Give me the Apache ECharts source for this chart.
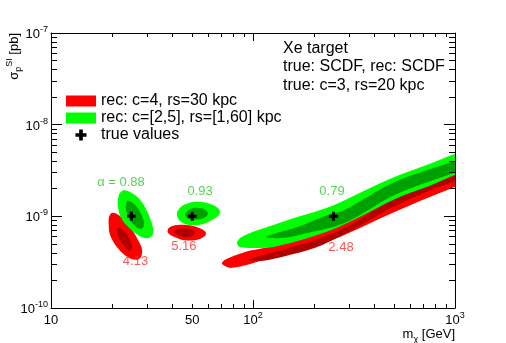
<!DOCTYPE html>
<html>
<head>
<meta charset="utf-8">
<script src="https://cdn.jsdelivr.net/npm/echarts@6/dist/echarts.min.js"></script>
<style>
  html, body { margin: 0; padding: 0; background: #fff; }
  #chart { width: 506px; height: 343px; }
</style>
</head>
<body>
<div id="chart"></div>
<script>
// true values [m_chi GeV, sigma pb]
var trueValues = [[25, 1e-9], [50, 1e-9], [250, 1e-9]];

// contours, [mass, sigma]
// rec: c=4, rs=30 kpc
var red25Outer = [[20.0,1.09e-9],[21.5,1.04e-9],[23.2,8.9e-10],[25.2,7.1e-10],[27.0,5.5e-10],[28.2,4.4e-10],[27.9,3.61e-10],[26.35,3.35e-10],[23.5,3.7e-10],[21.0,4.76e-10],[19.6,6.28e-10],[19.3,8.3e-10],[19.4,9.9e-10]];
var red25Inner = [[21.7,7.5e-10],[23.2,6.8e-10],[24.6,5.5e-10],[25.2,4.5e-10],[24.3,4.2e-10],[23.0,4.8e-10],[21.7,5.75e-10],[21.2,6.95e-10]];
var red50Outer = [[38.0,7.3e-10],[40.2,7.9e-10],[44.5,8.1e-10],[49.9,7.9e-10],[55.3,7.3e-10],[58.5,6.6e-10],[57.2,6.0e-10],[51.6,5.5e-10],[45.5,5.5e-10],[40.6,6.0e-10],[38.0,6.6e-10]];
var red50Inner = [[40.6,6.8e-10],[43.0,7.3e-10],[47.1,7.4e-10],[51.0,6.95e-10],[51.6,6.45e-10],[48.2,6.0e-10],[43.5,6.05e-10]];
var red250Outer = [[70.2,3.03e-10],[78.7,2.74e-10],[115,3.35e-10],[167,4.09e-10],[246,5.53e-10],[285,6.28e-10],[505,1.12e-9],[1000,2.10e-9],[1256,2.51e-9],
                   [1256,4.14e-9],[1000,3.39e-9],[505,1.72e-9],[285,8.7e-10],[171,5.82e-10],[115,4.53e-10],[91.3,4.09e-10],[72.7,3.35e-10]];
var red250Inner = [[94.5,3.35e-10],[139,4.30e-10],[203,5.53e-10],[285,7.49e-10],[505,1.55e-9],[1000,2.77e-9],[1256,3.30e-9],
                   [1256,2.77e-9],[1000,2.44e-9],[505,1.30e-9],[285,6.44e-10],[203,4.53e-10],[139,3.61e-10],[108,3.26e-10]];
// rec: c=[2,5], rs=[1,60] kpc
var green25Outer = [[23.2,1.92e-9],[25.5,1.76e-9],[27.6,1.52e-9],[29.5,1.21e-9],[30.9,9.6e-10],[32.0,7.5e-10],[32.0,6.44e-10],[30.55,5.82e-10],[28.5,5.89e-10],[26.05,6.6e-10],[23.8,7.87e-10],[22.2,9.63e-10],[21.5,1.24e-9],[21.5,1.59e-9],[22.2,1.85e-9]];
var green25Inner = [[24.0,1.48e-9],[26.4,1.30e-9],[28.2,1.01e-9],[28.9,8.1e-10],[27.9,7.3e-10],[26.0,7.9e-10],[24.3,9.6e-10],[23.5,1.21e-9]];
var green50Outer = [[42.0,1.07e-9],[44.0,1.27e-9],[48.2,1.40e-9],[53.4,1.44e-9],[59.2,1.40e-9],[64.9,1.30e-9],[68.6,1.15e-9],[67.1,1.01e-9],[61.3,8.9e-10],[54.7,8.1e-10],[47.7,8.1e-10],[43.5,8.9e-10]];
var green50Inner = [[46.1,1.04e-9],[48.2,1.18e-9],[52.8,1.24e-9],[57.9,1.18e-9],[59.9,1.07e-9],[57.2,9.6e-10],[52.2,9.2e-10],[47.7,9.4e-10]];
var green250Outer = [[83.3,5.13e-10],[88.2,5.97e-10],[114.7,7.49e-10],[167,9.9e-10],[246,1.30e-9],[339,1.81e-9],[505,2.70e-9],[752,3.75e-9],[1000,4.82e-9],[1256,5.89e-9],
                     [1256,3.48e-9],[1000,2.84e-9],[752,2.15e-9],[505,1.55e-9],[339,9.9e-10],[246,7.12e-10],[187,5.82e-10],[139,4.88e-10],[115,4.53e-10],[86.2,4.64e-10]];
var green250Inner = [[116,5.97e-10],[167,7.68e-10],[235,1.04e-9],[285,1.18e-9],[505,2.38e-9],[1000,4.04e-9],[1256,4.82e-9],
                     [1256,3.39e-9],[1000,2.99e-9],[505,1.72e-9],[285,8.5e-10],[187,6.6e-10],[139,5.82e-10]];

// alpha labels
var greenLabels = [['\u03b1 = 0.88', 22.2, 2.32e-9], ['0.93', 54.7, 1.85e-9], ['0.79', 246, 1.85e-9]];
var redLabels = [['4.13', 26.2, 3.26e-10], ['5.16', 45.5, 4.64e-10], ['2.48', 272.7, 4.53e-10]];

// axis ticks
var xMajor = [10, 100, 1000];
var xLabelValues = [10, 50, 100, 1000];
var yMajor = [1e-10, 1e-9, 1e-8, 1e-7];

var xMinor = [], yMinor = [];
for (var k = 2; k <= 9; k++) {
  xMinor.push(k * 10, k * 100);
  yMinor.push(k * 1e-10, k * 1e-9, k * 1e-8);
}

var FONT = '"Liberation Sans", Arial, sans-serif';
var RED = '#ff0000', DARKRED = '#b00000';
var GREEN = '#00ff00', DARKGREEN = '#00a000';

var redContours = [
  {pts: red25Outer, inner: false}, {pts: red25Inner, inner: true},
  {pts: red50Outer, inner: false}, {pts: red50Inner, inner: true},
  {pts: red250Outer, inner: false}, {pts: red250Inner, inner: true}
];
var greenContours = [
  {pts: green25Outer, inner: false}, {pts: green25Inner, inner: true},
  {pts: green50Outer, inner: false}, {pts: green50Inner, inner: true},
  {pts: green250Outer, inner: false}, {pts: green250Inner, inner: true}
];

function contourSeries(name, list, light, dark) {
  return {
    name: name,
    type: 'custom',
    clip: true,
    itemStyle: {color: light},
    data: list.map(function (c) { return c.pts[0]; }),
    renderItem: function (params, api) {
      var c = list[params.dataIndex];
      var pts = c.pts.map(function (p) { return api.coord(p); });
      return {
        type: 'polygon',
        shape: {points: pts, smooth: 0.35},
        style: {fill: c.inner ? dark : light}
      };
    }
  };
}

var supRich = {
  b: {fontSize: 13, fontFamily: FONT, color: '#000', lineHeight: 16, verticalAlign: 'bottom'},
  e: {fontSize: 9, fontFamily: FONT, color: '#000', lineHeight: 16, verticalAlign: 'top'}
};

function xFmt(v) {
  if (v >= 100) return '{b|10}{e|' + Math.round(Math.log10(v)) + '}';
  return '{b|' + Math.round(v) + '}';
}
function yFmt(v) {
  return '{b|10}{e|' + Math.round(Math.log10(v)) + '}';
}

function makeAxis(dim, grid, pos, major, opt) {
  var isX = dim === 'x';
  return Object.assign({
    gridIndex: grid,
    type: 'log',
    logBase: 10,
    min: isX ? 10 : 1e-10,
    max: isX ? 1000 : 1e-7,
    position: pos,
    z: 5,
    axisLine: {show: major, lineStyle: {color: '#000', width: 1}},
    axisTick: {
      show: true, inside: true,
      length: major ? (isX ? 8 : 11) : (isX ? 4 : 6),
      customValues: major ? (isX ? xMajor : yMajor) : (isX ? xMinor : yMinor),
      lineStyle: {color: '#000', width: 1}
    },
    axisLabel: {show: false},
    splitLine: {show: false}
  }, opt || {});
}

var gridBox = {left: 51, right: 51, top: 33, bottom: 35};

var chart = echarts.init(document.getElementById('chart'), null, {renderer: 'canvas'});
chart.setOption({
  animation: false,
  backgroundColor: '#fff',
  textStyle: {fontFamily: FONT},
  grid: [Object.assign({}, gridBox), Object.assign({}, gridBox)],
  xAxis: [
    makeAxis('x', 0, 'bottom', true, {
      axisLabel: {show: true, customValues: xLabelValues, formatter: xFmt, rich: supRich, margin: 3}
    }),
    makeAxis('x', 0, 'top', true),
    makeAxis('x', 1, 'bottom', false),
    makeAxis('x', 1, 'top', false)
  ],
  yAxis: [
    makeAxis('y', 0, 'left', true, {
      axisLabel: {show: true, customValues: yMajor, formatter: yFmt, rich: supRich, margin: 3}
    }),
    makeAxis('y', 0, 'right', true),
    makeAxis('y', 1, 'left', false),
    makeAxis('y', 1, 'right', false)
  ],
  legend: {
    orient: 'vertical',
    left: 66,
    top: 93,
    padding: 0,
    itemWidth: 30,
    itemHeight: 11,
    itemGap: 1,
    selectedMode: false,
    itemStyle: {borderWidth: 0},
    textStyle: {fontSize: 16, fontFamily: FONT, color: '#000', lineHeight: 16},
    data: [
      {name: 'rec: c=4, rs=30 kpc', icon: 'rect'},
      {name: 'rec: c=[2,5], rs=[1,60] kpc', icon: 'rect'},
      {name: 'true values'}
    ]
  },
  series: [
    contourSeries('rec: c=4, rs=30 kpc', redContours, RED, DARKRED),
    contourSeries('rec: c=[2,5], rs=[1,60] kpc', greenContours, GREEN, DARKGREEN),
    {
      name: 'true values',
      type: 'scatter',
      symbol: 'path://M3,0H6V3H9V6H6V9H3V6H0V3H3Z',
      symbolSize: 9,
      itemStyle: {color: '#000', opacity: 1},
      data: trueValues,
      z: 4
    },
    {
      name: 'labels',
      type: 'scatter',
      symbolSize: 0,
      silent: true,
      data: greenLabels.map(function (l) {
        return {name: l[0], value: [l[1], l[2]], label: {color: '#2ec82e'}};
      }).concat(redLabels.map(function (l) {
        return {name: l[0], value: [l[1], l[2]], label: {color: '#ff2a2a'}};
      })),
      label: {
        show: true,
        position: 'inside',
        formatter: '{b}',
        fontSize: 13,
        fontFamily: FONT
      }
    }
  ],
  graphic: [
    {type: 'text', left: 283, top: 40.5, style: {text: 'Xe target', fontSize: 16, fontFamily: FONT, fill: '#000'}},
    {type: 'text', left: 283, top: 58.5, style: {text: 'true: SCDF, rec: SCDF', fontSize: 16, fontFamily: FONT, fill: '#000'}},
    {type: 'text', left: 283, top: 77.5, style: {text: 'true: c=3, rs=20 kpc', fontSize: 16, fontFamily: FONT, fill: '#000'}},
    {
      type: 'text', x: 455, y: 336,
      style: {
        text: '{t|m}{s|\u03c7}{t| [GeV]}', align: 'right', verticalAlign: 'middle',
        rich: {
          t: {fontSize: 13, fontFamily: FONT, fill: '#000', lineHeight: 16, verticalAlign: 'top'},
          s: {fontSize: 9, fontFamily: FONT, fill: '#000', lineHeight: 16, verticalAlign: 'bottom'}
        }
      }
    },
    {
      type: 'text', x: 14, y: 33, rotation: Math.PI / 2,
      style: {
        text: '{t|\u03c3}{s|p}{u|SI}{t| [pb]}', align: 'right', verticalAlign: 'middle',
        rich: {
          t: {fontSize: 13, fontFamily: FONT, fill: '#000', lineHeight: 18, verticalAlign: 'middle'},
          s: {fontSize: 9, fontFamily: FONT, fill: '#000', lineHeight: 18, verticalAlign: 'bottom'},
          u: {fontSize: 9, fontFamily: FONT, fill: '#000', lineHeight: 18, verticalAlign: 'top'}
        }
      }
    }
  ]
});
</script>
</body>
</html>
